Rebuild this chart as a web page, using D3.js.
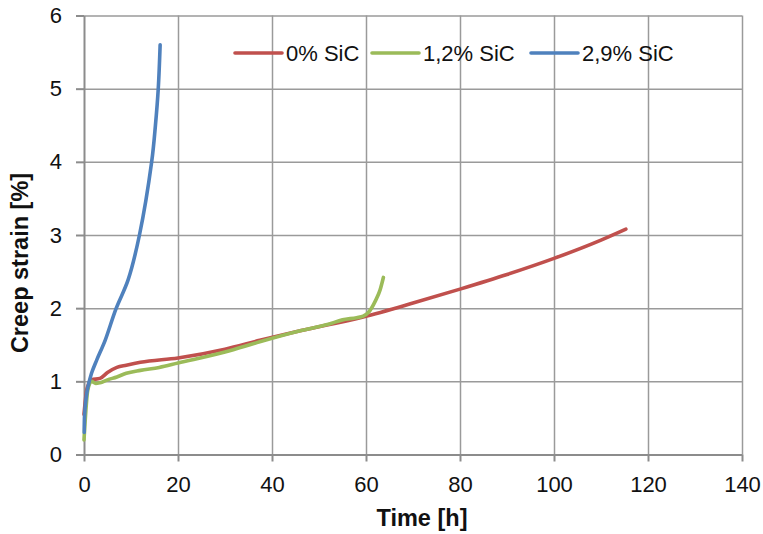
<!DOCTYPE html>
<html>
<head>
<meta charset="utf-8">
<script src="https://cdn.jsdelivr.net/npm/d3@7"></script>
<style>
  body { margin: 0; background: #fff; }
  svg { display: block; font-family: "Liberation Sans", Arial, sans-serif; }
  .grid line { stroke: #9a9a9a; stroke-width: 1.5; }
  .grid path { display: none; }
  .axis path, .axis line { stroke: #8c8c8c; stroke-width: 2; }
  .axis text { font-family: "Liberation Sans", Arial, sans-serif; font-size: 22px; fill: #111; }
  .axis-title { font-size: 23.5px; font-weight: bold; fill: #111; }
  .legend text { font-size: 22px; fill: #111; }
  .curve { fill: none; stroke-width: 3.6; stroke-linecap: round; stroke-linejoin: round; }
</style>
</head>
<body>
<div id="chart"></div>
<script>
// Creep strain vs time for three SiC contents.

const seriesNames = ["0% SiC", "1,2% SiC", "2,9% SiC"];
const seriesColors = ["#c0504d", "#9bbb59", "#4f81bd"];

const sic0 = [
  [0, 0.55], [0.5, 0.85], [1, 0.97], [1.6, 1.02], [3.4, 1.04], [5, 1.12], [7, 1.19],
  [9, 1.22], [12, 1.26], [20, 1.32], [30, 1.44], [37.4, 1.56], [46, 1.69], [59.4, 1.88],
  [70, 2.07], [80, 2.26], [90, 2.46], [100, 2.68], [110, 2.93], [115.3, 3.08]
];

const sic12 = [
  [0, 0.2], [0.4, 0.6], [0.8, 0.88], [1.6, 1.0], [2.5, 0.97], [3.4, 0.98], [5, 1.02],
  [7, 1.06], [9, 1.11], [12, 1.15], [16, 1.19], [20, 1.25], [30, 1.4], [37.4, 1.54],
  [46, 1.69], [52, 1.78], [55, 1.84], [58, 1.87], [59.4, 1.89], [60.5, 1.94], [62, 2.1],
  [63, 2.25], [63.7, 2.42]
];

const sic29 = [
  [0.05, 0.3], [0.15, 0.57], [0.7, 0.88], [1.6, 1.11], [2.7, 1.29], [4.5, 1.56],
  [6.8, 1.99], [9.4, 2.39], [11.8, 3.0], [14.4, 4.0], [15.2, 4.5], [15.8, 5.0], [16.2, 5.6]
];

const xTicks = [0, 20, 40, 60, 80, 100, 120, 140];
const yTicks = [0, 1, 2, 3, 4, 5, 6];

const width = 763;
const height = 534;
const margin = { top: 15.5, right: 21, bottom: 79.5, left: 84 };
const innerWidth = width - margin.left - margin.right;
const innerHeight = height - margin.top - margin.bottom;

const svg = d3.select("#chart")
  .append("svg")
  .attr("width", width)
  .attr("height", height);

const chart = svg.append("g")
  .attr("transform", `translate(${margin.left}, ${margin.top})`);

const x = d3.scaleLinear().domain([0, 140]).range([0, innerWidth]);
const y = d3.scaleLinear().domain([0, 6]).range([innerHeight, 0]);

// gridlines
chart.append("g")
  .attr("class", "grid")
  .call(d3.axisLeft(y).tickValues(yTicks.slice(1)).tickSize(-innerWidth).tickFormat(""));

chart.append("g")
  .attr("class", "grid")
  .attr("transform", `translate(0, ${innerHeight})`)
  .call(d3.axisBottom(x).tickValues(xTicks.slice(1)).tickSize(-innerHeight).tickFormat(""));

// axes
chart.append("g")
  .attr("class", "axis")
  .attr("transform", `translate(0, ${innerHeight})`)
  .call(d3.axisBottom(x).tickValues(xTicks).tickFormat(d3.format("d"))
    .tickSize(7).tickSizeOuter(0).tickPadding(15));

chart.append("g")
  .attr("class", "axis")
  .call(d3.axisLeft(y).tickValues(yTicks).tickFormat(d3.format("d"))
    .tickSize(8).tickSizeOuter(0).tickPadding(14));

// curves
const line = d3.line()
  .x(d => x(d[0]))
  .y(d => y(d[1]));

[sic0, sic12, sic29].forEach((data, i) => {
  chart.append("path")
    .datum(data)
    .attr("class", "curve")
    .attr("stroke", seriesColors[i])
    .attr("d", line.curve(i === 2 ? d3.curveCatmullRom : d3.curveMonotoneX));
});

// legend
const legendX = [235, 372, 531];
const legend = svg.append("g").attr("class", "legend");
seriesNames.forEach((name, i) => {
  legend.append("line")
    .attr("x1", legendX[i])
    .attr("x2", legendX[i] + 47)
    .attr("y1", 53)
    .attr("y2", 53)
    .attr("stroke", seriesColors[i])
    .attr("stroke-width", 3.6)
    .attr("stroke-linecap", "round");
  legend.append("text")
    .attr("x", legendX[i] + 51)
    .attr("y", 61)
    .text(name);
});

// axis titles
svg.append("text")
  .attr("class", "axis-title")
  .attr("x", 422)
  .attr("y", 526)
  .attr("text-anchor", "middle")
  .text("Time [h]");

svg.append("text")
  .attr("class", "axis-title")
  .attr("transform", `translate(28, 263) rotate(-90)`)
  .attr("text-anchor", "middle")
  .text("Creep strain [%]");
</script>
</body>
</html>
